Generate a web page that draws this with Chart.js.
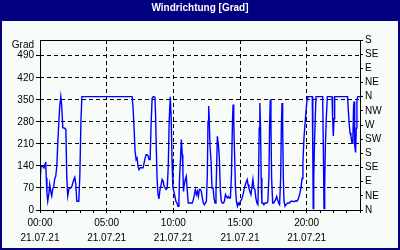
<!DOCTYPE html>
<html><head><meta charset="utf-8">
<script src="https://cdn.jsdelivr.net/npm/chart.js@4.4.1/dist/chart.umd.min.js"></script>
<style>html,body{margin:0;padding:0;background:#F8FCF8;overflow:hidden}canvas{display:block}</style>
</head><body>
<canvas id="c" width="400" height="250"></canvas>
<script>
const chartTitle = 'Windrichtung [Grad]';
const unitLabel = 'Grad';
const dateLabel = '21.07.21';
const timeTickHours = [0, 5, 10, 15, 20];
const timeTickLabels = ['00:00', '05:00', '10:00', '15:00', '20:00'];
const degreeTicks = [0, 70, 140, 210, 280, 350, 420, 490];
const compassTicks = [0, 45, 90, 135, 180, 225, 270, 315, 360, 405, 450, 495, 540];
const compassLabels = ['N', 'NE', 'E', 'SE', 'S', 'SW', 'W', 'NW', 'N', 'NE', 'E', 'SE', 'S'];

const hours = [
  0.00, 0.03, 0.08, 0.25, 0.30, 0.38, 0.43, 0.47, 0.52, 0.58, 0.66, 0.73, 0.80, 0.88, 0.95, 1.03, 1.11, 1.18, 1.26, 1.33,
  1.41, 1.48, 1.56, 1.63, 1.71, 1.80, 1.87, 1.94, 2.01, 2.08, 2.16, 2.23, 2.31, 2.39, 2.46, 2.54, 2.61, 2.69, 2.76, 2.91,
  2.99, 3.07, 3.14, 6.91, 6.98, 7.06, 7.13, 7.21, 7.28, 7.36, 7.43, 7.51, 7.73, 7.81, 7.88, 7.96, 8.03, 8.11, 8.18, 8.26,
  8.34, 8.41, 8.50, 8.62, 8.67, 8.72, 8.78, 8.85, 8.92, 9.00, 9.09, 9.16, 9.24, 9.31, 9.39, 9.46, 9.54, 9.62, 9.69, 9.77,
  9.84, 9.90, 9.97, 10.04, 10.12, 10.19, 10.27, 10.35, 10.42, 10.47, 10.53, 10.60, 10.67, 10.71, 10.76, 10.82, 10.90, 10.97, 11.05, 11.12,
  11.42, 11.50, 11.58, 11.65, 11.73, 11.80, 11.88, 11.95, 12.03, 12.10, 12.18, 12.25, 12.33, 12.40, 12.48, 12.55, 12.60, 12.65, 12.70, 12.75,
  12.83, 12.90, 12.98, 13.05, 13.13, 13.20, 13.25, 13.30, 13.38, 13.45, 13.53, 13.60, 13.68, 13.76, 13.83, 13.91, 13.98, 14.06, 14.13, 14.21,
  14.28, 14.36, 14.43, 14.48, 14.53, 14.58, 14.66, 14.73, 14.81, 14.88, 14.96, 15.03, 15.11, 15.19, 15.26, 15.33, 15.40, 15.47, 15.54, 15.60,
  15.67, 15.74, 15.82, 15.89, 15.97, 16.04, 16.12, 16.19, 16.27, 16.34, 16.39, 16.44, 16.49, 16.54, 16.59, 16.64, 16.72, 16.79, 16.87, 16.94,
  17.02, 17.09, 17.17, 17.22, 17.27, 17.32, 17.37, 17.45, 17.52, 17.60, 17.67, 17.75, 17.82, 17.90, 17.97, 18.05, 18.10, 18.15, 18.20, 18.25,
  18.30, 18.38, 18.45, 18.58, 18.70, 18.83, 18.95, 19.08, 19.18, 19.28, 19.35, 19.43, 19.50, 19.58, 19.65, 19.72, 19.80, 19.88, 19.95, 20.03,
  20.08, 20.42, 20.46, 20.49, 20.53, 20.58, 20.65, 20.70, 21.20, 21.25, 21.30, 21.35, 21.40, 21.47, 21.55, 21.90, 21.95, 22.00, 22.05, 22.10,
  23.07, 23.12, 23.18, 23.25, 23.32, 23.40, 23.46, 23.52, 23.56, 23.60, 23.67, 23.72, 23.77, 23.83, 24.00
];
const degrees = [
  65, 110, 138, 138, 134, 146, 153, 102, 55, 28, 50, 81, 60, 45, 65, 75, 101, 107, 139, 208,
  277, 330, 360, 330, 261, 261, 258, 256, 102, 45, 65, 70, 70, 75, 86, 97, 104, 80, 28, 28,
  112, 282, 360, 360, 325, 256, 187, 160, 165, 136, 128, 134, 134, 150, 165, 176, 176, 171, 160, 160,
  282, 355, 360, 358, 300, 200, 100, 50, 35, 65, 81, 97, 91, 75, 70, 65, 70, 139, 282, 360,
  293, 160, 70, 59, 43, 28, 22, 12, 30, 107, 155, 224, 176, 140, 59, 81, 97, 107, 59, 22,
  22, 33, 49, 65, 49, 59, 43, 65, 65, 59, 38, 22, 17, 22, 28, 112, 282, 330, 282, 203,
  155, 70, 70, 38, 22, 59, 140, 234, 208, 165, 59, 28, 22, 22, 28, 49, 43, 38, 43, 38,
  38, 112, 271, 335, 282, 197, 70, 28, 12, 22, 17, 28, 33, 43, 55, 70, 80, 90, 97, 81,
  70, 59, 49, 70, 97, 70, 65, 38, 22, 17, 102, 261, 340, 261, 102, 22, 22, 17, 22, 22,
  22, 28, 107, 271, 351, 271, 102, 22, 22, 28, 33, 43, 33, 22, 17, 102, 261, 340, 261, 102,
  28, 12, 17, 22, 22, 28, 28, 26, 30, 28, 33, 43, 55, 72, 100, 150, 230, 275, 314, 350,
  360, 360, 180, 5, 100, 200, 300, 360, 360, 200, 5, 70, 200, 290, 360, 360, 290, 235, 290, 360,
  360, 320, 280, 245, 235, 212, 215, 330, 345, 205, 183, 260, 345, 360, 360
];

const fontStack = "'Liberation Sans', Arial, sans-serif";
Chart.defaults.font.family = fontStack;
Chart.defaults.font.size = 10;
Chart.defaults.color = '#000';

const framePlugin = {
  id: 'frame',
  beforeDraw(chart) {
    const {ctx, width, height} = chart;
    ctx.save();
    ctx.fillStyle = '#000080';
    ctx.fillRect(0, 0, width, height);
    ctx.fillStyle = '#F8FCF8';
    ctx.fillRect(2, 21, width - 4, height - 23);
    ctx.restore();
  },
  afterDraw(chart) {
    const {ctx, chartArea: a} = chart;
    ctx.save();
    ctx.strokeStyle = '#000';
    ctx.lineWidth = 1;
    ctx.strokeRect(a.left + 0.5, a.top + 0.5, a.right - a.left, a.bottom - a.top);
    ctx.font = '10px ' + fontStack;
    ctx.fillStyle = '#000';
    ctx.textAlign = 'right';
    ctx.textBaseline = 'middle';
    ctx.fillText(unitLabel, a.left - 6, a.top + 5);
    ctx.restore();
  }
};

const clear = 'rgba(0,0,0,0)';
new Chart(document.getElementById('c'), {
  type: 'line',
  data: {
    datasets: [{
      data: hours.map((h, i) => ({x: h, y: degrees[i]})),
      borderColor: '#0000FF',
      borderWidth: 1.4,
      pointRadius: 0,
      fill: false,
      tension: 0,
      yAxisID: 'y'
    }]
  },
  options: {
    responsive: false,
    animation: false,
    devicePixelRatio: 1,
    layout: {padding: 0},
    plugins: {
      legend: {display: false},
      tooltip: {enabled: false},
      title: {
        display: true,
        text: chartTitle,
        color: '#FFFFFF',
        font: {family: fontStack, size: 10, weight: 'bold', lineHeight: 1.2},
        padding: {top: 2, bottom: 26}
      }
    },
    scales: {
      x: {
        type: 'linear', min: 0, max: 24,
        ticks: {
          stepSize: 1, autoSkip: false, maxRotation: 0, padding: 3,
          font: {size: 10, lineHeight: '15px'},
          callback: v => { const i = timeTickHours.indexOf(v); return i < 0 ? '' : [timeTickLabels[i], dateLabel]; }
        },
        grid: {
          color: c => (c.tick && c.tick.value !== 0 && timeTickHours.includes(c.tick.value)) ? '#000' : clear,
          tickColor: '#000', tickLength: 3, lineWidth: 1
        },
        border: {display: false, dash: [4, 3]},
        afterFit: s => { s.height = 40; }
      },
      y: {
        position: 'left', min: 0, max: 540,
        afterBuildTicks: s => { s.ticks = degreeTicks.map(v => ({value: v})); },
        ticks: {padding: 2, autoSkip: false, font: {size: 10}},
        grid: {
          color: c => (c.tick && c.tick.value !== 0) ? '#000' : clear,
          tickColor: '#000', tickLength: 4, lineWidth: 1
        },
        border: {display: false, dash: [4, 3]},
        afterFit: s => { s.width = 40; }
      },
      y2: {
        position: 'right', min: 0, max: 540,
        afterBuildTicks: s => { s.ticks = compassTicks.map(v => ({value: v})); },
        ticks: {padding: 2, autoSkip: false, font: {size: 10}, callback: (v, i) => compassLabels[i]},
        grid: {drawOnChartArea: false, tickColor: '#000', tickLength: 3},
        border: {display: false},
        afterFit: s => { s.width = 40; }
      }
    }
  },
  plugins: [framePlugin]
});
</script>
</body></html>
